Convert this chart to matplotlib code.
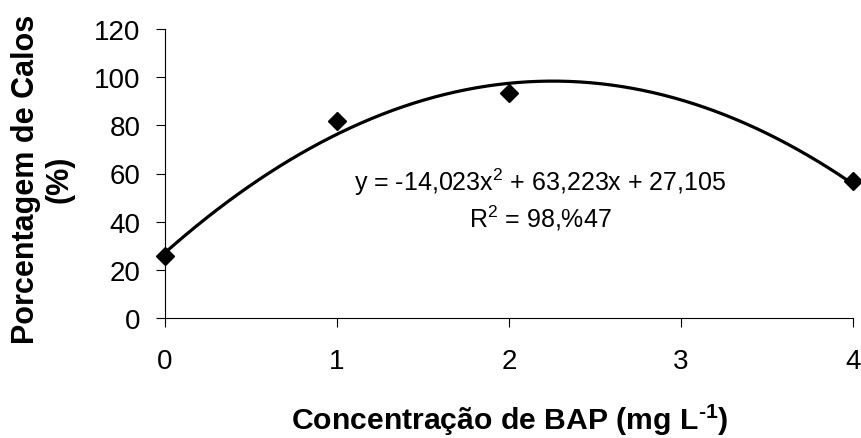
import numpy as np
import matplotlib
matplotlib.use("Agg")
import matplotlib.pyplot as plt

# Data
bap = [0, 1, 2, 4]
calos = [25.7, 81.8, 93.4, 57.0]
coef = [-14.023, 63.223, 27.105]  # trendline coefficients shown on chart
x_ticks = [0, 1, 2, 3, 4]
y_ticks = [0, 20, 40, 60, 80, 100, 120]

plt.rcParams['font.family'] = ['Liberation Sans', 'DejaVu Sans']
plt.rcParams['mathtext.fontset'] = 'custom'
plt.rcParams['mathtext.rm'] = 'Liberation Sans'
plt.rcParams['mathtext.it'] = 'Liberation Sans'
plt.rcParams['mathtext.bf'] = 'Liberation Sans:bold'

fig = plt.figure(figsize=(8.62, 4.39), dpi=100)
ax = fig.add_axes([165/862, 1-319/439, (853-165)/862, (319-30)/439])

xs = np.linspace(min(bap), max(bap), 200)
ax.plot(xs, np.polyval(coef, xs), color='black', lw=2.3, zorder=2, clip_on=False)
ax.plot(bap, calos, linestyle='none', marker='D', ms=9.5, color='black', zorder=3, clip_on=False)

ax.set_xlim(0, 4)
ax.set_ylim(0, 120)
ax.set_xticks(x_ticks)
ax.set_yticks(y_ticks)
ax.tick_params(axis='both', labelsize=20, direction='out', length=6.5, width=0.8, colors='black')
ax.tick_params(axis='x', pad=15)
ax.tick_params(axis='y', pad=11)
for s in ['top', 'right']:
    ax.spines[s].set_visible(False)
for s in ['left', 'bottom']:
    ax.spines[s].set_linewidth(0.8)

fig.text(510/862, 1-430/439, 'Concentração de BAP (mg L$^{\\mathbf{\u2010}\\mathbf{1}}$)',
         ha='center', va='baseline', fontsize=21.7, fontweight='bold')
fig.text(43/862, 1-179/439, 'Porcentagem de Calos\n(%)', ha='center', va='center',
         rotation=90, fontsize=22, fontweight='bold', linespacing=1.15, multialignment='center')

ax.text(2.18, 56.9, 'y = -14,023x$^2$ + 63,223x + 27,105', ha='center', va='center', fontsize=18)
ax.text(2.18, 41.9, 'R$^2$ = 98,%47', ha='center', va='center', fontsize=18)

fig.savefig('out.png', dpi=100)
